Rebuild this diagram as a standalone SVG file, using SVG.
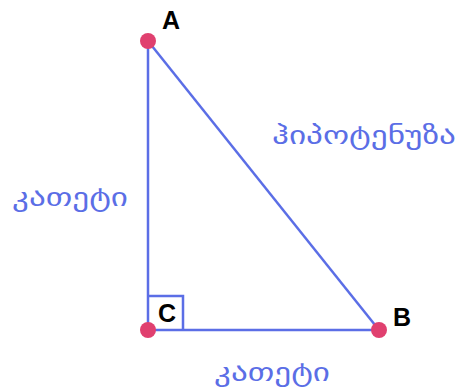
<svg xmlns="http://www.w3.org/2000/svg" width="460" height="389" viewBox="0 0 460 389">
<style>
.edge{stroke:#5b6ee6;stroke-width:2.5;fill:none}
.dot{fill:#e0406f}
.lbl{font-family:"Liberation Sans",Arial,sans-serif;font-weight:bold;font-size:25px;fill:#000}
.geo{font-family:"DejaVu Sans",sans-serif;font-size:25px;fill:#5b6ee6}
</style>
<rect width="460" height="389" fill="#fff"/>
<g id="connectors">
<line class="edge" x1="148" y1="41" x2="148" y2="330"/>
<line class="edge" x1="148" y1="330" x2="379" y2="330"/>
<line class="edge" x1="148" y1="41" x2="379" y2="330"/>
<polyline class="edge" points="148,296 183,296 183,330"/>
</g>
<g id="A"><circle class="dot" cx="148" cy="41" r="8"/><text class="lbl" x="171" y="29" text-anchor="middle">A</text></g>
<g id="B"><circle class="dot" cx="379" cy="330" r="8"/><text class="lbl" x="402" y="326" text-anchor="middle">B</text></g>
<g id="C"><circle class="dot" cx="148" cy="330" r="8"/><text class="lbl" x="167" y="322" text-anchor="middle">C</text></g>
<g id="hyp"><text class="geo" x="272" y="144" textLength="184" lengthAdjust="spacingAndGlyphs">ჰიპოტენუზა</text></g>
<g id="leg1"><text class="geo" x="12" y="206" textLength="116" lengthAdjust="spacingAndGlyphs">კათეტი</text></g>
<g id="leg2"><text class="geo" x="214" y="381" textLength="116" lengthAdjust="spacingAndGlyphs">კათეტი</text></g>
</svg>
